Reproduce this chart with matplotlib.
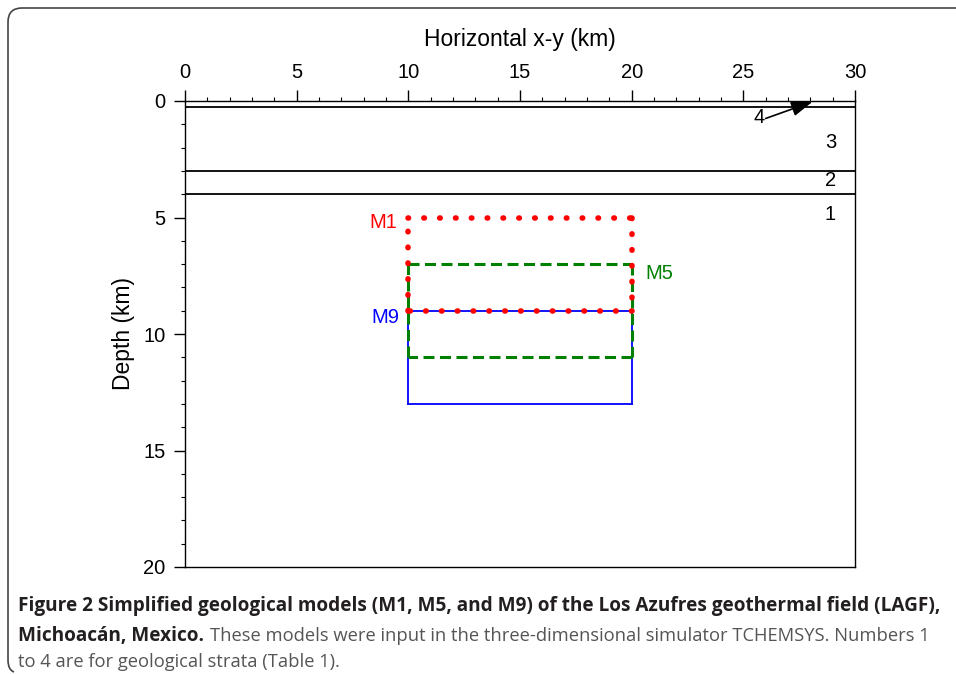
import numpy as np
import matplotlib.pyplot as plt
from matplotlib.path import Path
from matplotlib.patches import PathPatch

plt.rcParams['font.family'] = ['Liberation Sans', 'DejaVu Sans']

# strata boundaries (depth, km)
strata_depths = [0.0, 0.25, 3.0, 4.0]
strata_labels = ['4', '3', '2', '1']
strata_label_x = [25.7, 28.9, 28.9, 28.9]
strata_label_y = [0.7, 1.8, 3.4, 4.85]

# model boxes: x range and depth range
models = ['M1', 'M5', 'M9']
box_x = [(10, 20), (10, 20), (10, 20)]
box_top = [5, 7, 9]
box_bottom = [9, 11, 13]
box_colors = ['red', 'green', 'blue']
label_pos = [(9.5, 5.2), (20.6, 7.4), (9.6, 9.3)]

caption_bold1 = 'Figure 2 Simplified geological models (M1, M5, and M9) of the Los Azufres geothermal field (LAGF),'
caption_bold2 = 'Michoacán, Mexico.'
caption_rest2 = 'These models were input in the three-dimensional simulator TCHEMSYS. Numbers 1'
caption_line3 = 'to 4 are for geological strata (Table 1).'

fig = plt.figure(figsize=(9.56, 6.74), dpi=100)
ax = fig.add_axes([185/956, 1-567/674, 670/956, 466/674])

for d in strata_depths:
    ax.plot([0, 30], [d, d], color='black', lw=1.3)

for i, m in enumerate(models):
    x0, x1 = box_x[i]
    t, b = box_top[i], box_bottom[i]
    edges = [([x0, x1], [t, t]), ([x1, x1], [t, b]), ([x1, x0], [b, b]), ([x0, x0], [b, t])]
    for xs, ys in edges:
        if m == 'M1':
            ax.plot(xs, ys, color=box_colors[i], lw=4, linestyle=(0, (0.1, 2.75)),
                    dash_capstyle='round', zorder=3)
        elif m == 'M5':
            ax.plot(xs, ys, color=box_colors[i], lw=2.2, linestyle=(0, (3.6, 1.8)), zorder=2)
        else:
            ax.plot(xs, ys, color=box_colors[i], lw=1.3, zorder=1)
    lx, ly = label_pos[i]
    ha = 'left' if m == 'M5' else 'right'
    ax.text(lx, ly, m, color=box_colors[i], fontsize=14.5, ha=ha, va='center')

for i, lab in enumerate(strata_labels):
    ax.text(strata_label_x[i], strata_label_y[i], lab, fontsize=14.5, ha='center', va='center')

ax.annotate('', xy=(28.1, 0.03), xytext=(26.0, 0.75),
            arrowprops=dict(arrowstyle='-|>,head_length=1.3,head_width=0.45',
                            color='black', lw=1.2, shrinkA=0, shrinkB=0))

ax.set_xlim(0, 30)
ax.set_ylim(20, 0)
ax.xaxis.set_ticks_position('top')
ax.xaxis.set_label_position('top')
ax.set_xticks(np.arange(0, 31, 5))
ax.set_xticks(np.arange(0, 31, 1), minor=True)
ax.set_yticks(np.arange(0, 21, 5))
ax.set_yticks(np.arange(0, 21, 1), minor=True)
ax.tick_params(which='major', length=8, width=1, labelsize=14.5, pad=6)
ax.tick_params(which='minor', length=3, width=0.8)
ax.set_xlabel('Horizontal x-y (km)', fontsize=16.5, labelpad=12)
ax.set_ylabel('Depth (km)', fontsize=16.5, labelpad=6)
for s in ax.spines.values():
    s.set_linewidth(1.0)

# rounded frame around the figure
r = 14
verts = [(956/956, 1-8/674), ((8+r)/956, 1-8/674), (8/956, 1-8/674), (8/956, 1-(8+r)/674),
         (8/956, 1-660/674), (8/956, 1-670/674), (14/956, 1-672/674)]
codes = [Path.MOVETO, Path.LINETO, Path.CURVE3, Path.CURVE3, Path.LINETO, Path.CURVE3, Path.CURVE3]
fig.patches.append(PathPatch(Path(verts, codes), transform=fig.transFigure,
                             fill=False, edgecolor='#444444', lw=1.2))

# caption, fitted so the lines span the same widths as the reference
cap_font = ['Open Sans', 'DejaVu Sans']
renderer = fig.canvas.get_renderer()
t1 = fig.text(18/956, 1-606/674, caption_bold1, fontsize=13, fontweight='bold',
              family=cap_font, va='center', color='#231f20')
w = t1.get_window_extent(renderer).width
fs = 13 * 915 / w
t1.set_fontsize(fs)
t2 = fig.text(18/956, 1-636/674, caption_bold2, fontsize=fs, fontweight='bold',
              family=cap_font, va='center', color='#231f20')
w2 = t2.get_window_extent(renderer).width
x_rest = 18 + w2 + 6
t3 = fig.text(x_rest/956, 1-636/674, caption_rest2, fontsize=fs,
              family=cap_font, va='center', color='#555555')
w3 = t3.get_window_extent(renderer).width
fs2 = fs * (930 - x_rest) / w3
t3.set_fontsize(fs2)
fig.text(18/956, 1-662/674, caption_line3, fontsize=fs2,
         family=cap_font, va='center', color='#555555')

fig.savefig('out.png', dpi=100)
